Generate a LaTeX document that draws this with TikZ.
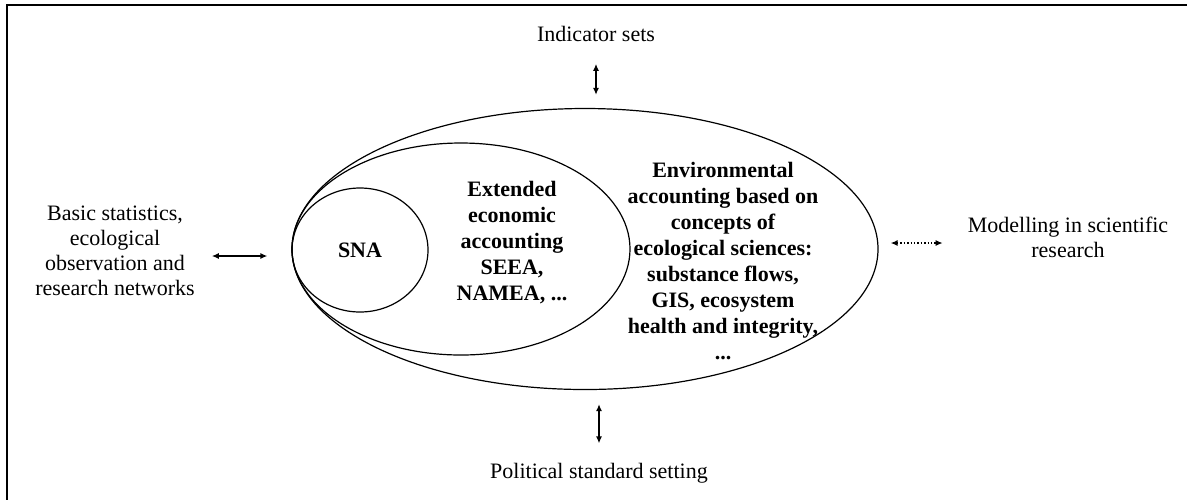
\documentclass[tikz,border=0pt]{standalone}
\usepackage{fontspec}
\setmainfont{Liberation Serif}
\usetikzlibrary{arrows.meta,shapes.geometric}

\tikzset{
  ring/.style={draw, ellipse, inner sep=0pt, line width=0.6pt},
  label/.style={align=center, font=\fontsize{11}{12.5}\selectfont},
  boldlabel/.style={align=center, font=\fontsize{11}{13}\selectfont\bfseries},
  twoway/.style={{Latex[length=3.5pt,width=3pt]}-{Latex[length=3.5pt,width=3pt]}, line width=0.7pt}
}

\begin{document}
\begin{tikzpicture}[x=0.5pt,y=-0.5pt]
        \useasboundingbox (0,0) rectangle (1187,500);

        % Frame
        \draw[line width=0.6pt] (1187,5) -- (7,5) -- (7,500);

        % Nested accounts
        \node[ring, minimum width=293pt, minimum height=140.5pt] (outer) at (585,249) {};
        \node[ring, minimum width=169pt, minimum height=106pt] (middle) at (461,249) {};
        \node[ring, minimum width=68pt, minimum height=62pt, font=\fontsize{11}{13}\selectfont\bfseries] (sna) at (360,250) {SNA};

        % Texts inside
        \node[boldlabel] (extended) at (512,243) {Extended\\economic\\accounting\\SEEA,\\NAMEA, ...};
        \node[boldlabel] (environ) at (723,261) {Environmental\\accounting based on\\concepts of\\ecological sciences:\\substance flows,\\GIS, ecosystem\\health and integrity,\\...};

        % Surrounding fields
        \node[label] (indicator) at (596,34) {Indicator sets};
        \node[label] (political) at (599,473) {Political standard setting};
        \node[label] (basic) at (115,251) {Basic statistics,\\ecological\\observation and\\research networks};
        \node[label] (modelling) at (1068,237) {Modelling in scientific\\research};

        % Links
        \path ([yshift=-2.5pt]basic.east) coordinate (lft);
        \path ([yshift=3pt]outer.east) coordinate (rgt);
        \draw[twoway, shorten <=7.5pt, shorten >=6.5pt] (indicator.south) -- (indicator.south |- outer.north);
        \draw[twoway, shorten <=7pt, shorten >=6.25pt] (political.north |- outer.south) -- (political.north);
        \draw[twoway, shorten <=5pt, shorten >=12pt] (lft) -- (lft -| outer.west);
        \draw[twoway, densely dotted, shorten <=6pt, shorten >=9pt] (rgt) -- (rgt -| modelling.west);
    \end{tikzpicture}
\end{document}
